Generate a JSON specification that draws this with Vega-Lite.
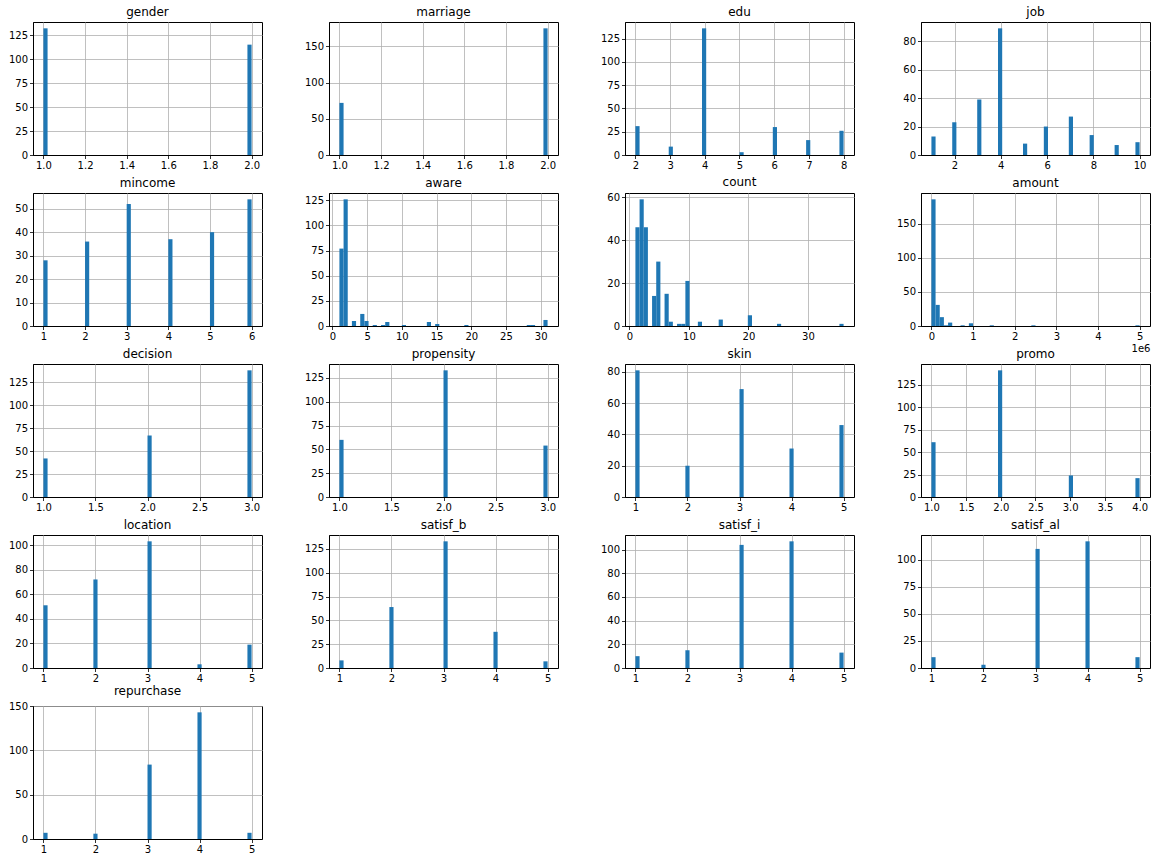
{
"$schema": "https://vega.github.io/schema/vega-lite/v6.json",
"padding": {"left": 7, "top": 5, "right": 5, "bottom": 5},
"background": "white",
"data": {"values": [
{"v":"gender","x0":1,"x1":1.02,"n":132},{"v":"gender","x0":1.98,"x1":2,"n":115},
{"v":"marriage","x0":1,"x1":1.02,"n":72},{"v":"marriage","x0":1.98,"x1":2,"n":175},
{"v":"edu","x0":2,"x1":2.12,"n":31},{"v":"edu","x0":2.96,"x1":3.08,"n":9},{"v":"edu","x0":3.92,"x1":4.04,"n":136},{"v":"edu","x0":5,"x1":5.12,"n":3},{"v":"edu","x0":5.96,"x1":6.08,"n":30},{"v":"edu","x0":6.92,"x1":7.04,"n":16},{"v":"edu","x0":7.88,"x1":8,"n":26},
{"v":"job","x0":1,"x1":1.18,"n":13},{"v":"job","x0":1.9,"x1":2.08,"n":23},{"v":"job","x0":2.98,"x1":3.16,"n":39},{"v":"job","x0":3.88,"x1":4.06,"n":89},{"v":"job","x0":4.96,"x1":5.14,"n":8},{"v":"job","x0":5.86,"x1":6.04,"n":20},{"v":"job","x0":6.94,"x1":7.12,"n":27},{"v":"job","x0":7.84,"x1":8.02,"n":14},{"v":"job","x0":8.92,"x1":9.1,"n":7},{"v":"job","x0":9.82,"x1":10,"n":9},
{"v":"mincome","x0":1,"x1":1.1,"n":28},{"v":"mincome","x0":2,"x1":2.1,"n":36},{"v":"mincome","x0":3,"x1":3.1,"n":52},{"v":"mincome","x0":4,"x1":4.1,"n":37},{"v":"mincome","x0":5,"x1":5.1,"n":40},{"v":"mincome","x0":5.9,"x1":6,"n":54},
{"v":"aware","x0":1,"x1":1.6,"n":77},{"v":"aware","x0":1.6,"x1":2.2,"n":126},{"v":"aware","x0":2.8,"x1":3.4,"n":5},{"v":"aware","x0":4,"x1":4.6,"n":12},{"v":"aware","x0":4.6,"x1":5.2,"n":5},{"v":"aware","x0":5.8,"x1":6.4,"n":1},{"v":"aware","x0":7,"x1":7.6,"n":1},{"v":"aware","x0":7.6,"x1":8.2,"n":4},{"v":"aware","x0":10,"x1":10.6,"n":1},{"v":"aware","x0":13.6,"x1":14.2,"n":4},{"v":"aware","x0":14.8,"x1":15.4,"n":2},{"v":"aware","x0":19,"x1":19.6,"n":1},{"v":"aware","x0":28,"x1":28.6,"n":1},{"v":"aware","x0":28.6,"x1":29.2,"n":1},{"v":"aware","x0":30.4,"x1":31,"n":6},
{"v":"count","x0":1,"x1":1.7,"n":46},{"v":"count","x0":1.7,"x1":2.4,"n":59},{"v":"count","x0":2.4,"x1":3.1,"n":46},{"v":"count","x0":3.8,"x1":4.5,"n":14},{"v":"count","x0":4.5,"x1":5.2,"n":30},{"v":"count","x0":5.9,"x1":6.6,"n":15},{"v":"count","x0":6.6,"x1":7.3,"n":2},{"v":"count","x0":8,"x1":8.7,"n":1},{"v":"count","x0":8.7,"x1":9.4,"n":1},{"v":"count","x0":9.4,"x1":10.1,"n":21},{"v":"count","x0":11.5,"x1":12.2,"n":2},{"v":"count","x0":15,"x1":15.7,"n":3},{"v":"count","x0":19.9,"x1":20.6,"n":5},{"v":"count","x0":24.8,"x1":25.5,"n":1},{"v":"count","x0":35.3,"x1":36,"n":1},
{"v":"amount","x0":0,"x1":100000,"n":186},{"v":"amount","x0":100000,"x1":200000,"n":31},{"v":"amount","x0":200000,"x1":300000,"n":13},{"v":"amount","x0":300000,"x1":400000,"n":1},{"v":"amount","x0":400000,"x1":500000,"n":5},{"v":"amount","x0":700000,"x1":800000,"n":1},{"v":"amount","x0":900000,"x1":1000000,"n":4},{"v":"amount","x0":1400000,"x1":1500000,"n":1},{"v":"amount","x0":2400000,"x1":2500000,"n":1},{"v":"amount","x0":4900000,"x1":5000000,"n":1},
{"v":"decision","x0":1,"x1":1.04,"n":42},{"v":"decision","x0":2,"x1":2.04,"n":67},{"v":"decision","x0":2.96,"x1":3,"n":138},
{"v":"propensity","x0":1,"x1":1.04,"n":60},{"v":"propensity","x0":2,"x1":2.04,"n":133},{"v":"propensity","x0":2.96,"x1":3,"n":54},
{"v":"skin","x0":1,"x1":1.08,"n":81},{"v":"skin","x0":1.96,"x1":2.04,"n":20},{"v":"skin","x0":3,"x1":3.08,"n":69},{"v":"skin","x0":3.96,"x1":4.04,"n":31},{"v":"skin","x0":4.92,"x1":5,"n":46},
{"v":"promo","x0":1,"x1":1.06,"n":61},{"v":"promo","x0":1.96,"x1":2.02,"n":141},{"v":"promo","x0":2.98,"x1":3.04,"n":24},{"v":"promo","x0":3.94,"x1":4,"n":21},
{"v":"location","x0":1,"x1":1.08,"n":51},{"v":"location","x0":1.96,"x1":2.04,"n":72},{"v":"location","x0":3,"x1":3.08,"n":103},{"v":"location","x0":3.96,"x1":4.04,"n":3},{"v":"location","x0":4.92,"x1":5,"n":19},
{"v":"satisf_b","x0":1,"x1":1.08,"n":8},{"v":"satisf_b","x0":1.96,"x1":2.04,"n":64},{"v":"satisf_b","x0":3,"x1":3.08,"n":133},{"v":"satisf_b","x0":3.96,"x1":4.04,"n":38},{"v":"satisf_b","x0":4.92,"x1":5,"n":7},
{"v":"satisf_i","x0":1,"x1":1.08,"n":10},{"v":"satisf_i","x0":1.96,"x1":2.04,"n":15},{"v":"satisf_i","x0":3,"x1":3.08,"n":104},{"v":"satisf_i","x0":3.96,"x1":4.04,"n":107},{"v":"satisf_i","x0":4.92,"x1":5,"n":13},
{"v":"satisf_al","x0":1,"x1":1.08,"n":10},{"v":"satisf_al","x0":1.96,"x1":2.04,"n":3},{"v":"satisf_al","x0":3,"x1":3.08,"n":110},{"v":"satisf_al","x0":3.96,"x1":4.04,"n":117},{"v":"satisf_al","x0":4.92,"x1":5,"n":10},
{"v":"repurchase","x0":1,"x1":1.08,"n":7},{"v":"repurchase","x0":1.96,"x1":2.04,"n":6},{"v":"repurchase","x0":3,"x1":3.08,"n":84},{"v":"repurchase","x0":3.96,"x1":4.04,"n":143},{"v":"repurchase","x0":4.92,"x1":5,"n":7}
]},
"columns": 4,
"spacing": {"row": 38, "column": 67},
"bounds": "flush",
"concat": [
{"title":"gender","width":229,"height":133,"transform":[{"filter":"datum.v==='gender'"}],"mark":{"type":"rect","color":"#1f77b4"},"encoding":{"x":{"field":"x0","type":"quantitative","title":null,"scale":{"domain":[0.95,2.05],"nice":false,"zero":false},"axis":{"values":[1,1.2,1.4,1.6,1.8,2],"format":".1f"}},"x2":{"field":"x1"},"y":{"field":"n","type":"quantitative","title":null,"scale":{"domain":[0,138.6],"nice":false},"axis":{"values":[0,25,50,75,100,125]}},"y2":{"datum":0}}},
{"title":"marriage","width":229,"height":133,"transform":[{"filter":"datum.v==='marriage'"}],"mark":{"type":"rect","color":"#1f77b4"},"encoding":{"x":{"field":"x0","type":"quantitative","title":null,"scale":{"domain":[0.95,2.05],"nice":false,"zero":false},"axis":{"values":[1,1.2,1.4,1.6,1.8,2],"format":".1f"}},"x2":{"field":"x1"},"y":{"field":"n","type":"quantitative","title":null,"scale":{"domain":[0,183.75],"nice":false},"axis":{"values":[0,50,100,150]}},"y2":{"datum":0}}},
{"title":"edu","width":229,"height":133,"transform":[{"filter":"datum.v==='edu'"}],"mark":{"type":"rect","color":"#1f77b4"},"encoding":{"x":{"field":"x0","type":"quantitative","title":null,"scale":{"domain":[1.7,8.3],"nice":false,"zero":false},"axis":{"values":[2,3,4,5,6,7,8],"format":"d"}},"x2":{"field":"x1"},"y":{"field":"n","type":"quantitative","title":null,"scale":{"domain":[0,142.8],"nice":false},"axis":{"values":[0,25,50,75,100,125]}},"y2":{"datum":0}}},
{"title":"job","width":229,"height":133,"transform":[{"filter":"datum.v==='job'"}],"mark":{"type":"rect","color":"#1f77b4"},"encoding":{"x":{"field":"x0","type":"quantitative","title":null,"scale":{"domain":[0.55,10.45],"nice":false,"zero":false},"axis":{"values":[2,4,6,8,10],"format":"d"}},"x2":{"field":"x1"},"y":{"field":"n","type":"quantitative","title":null,"scale":{"domain":[0,93.45],"nice":false},"axis":{"values":[0,20,40,60,80]}},"y2":{"datum":0}}},
{"title":"mincome","width":229,"height":133,"transform":[{"filter":"datum.v==='mincome'"}],"mark":{"type":"rect","color":"#1f77b4"},"encoding":{"x":{"field":"x0","type":"quantitative","title":null,"scale":{"domain":[0.75,6.25],"nice":false,"zero":false},"axis":{"values":[1,2,3,4,5,6],"format":"d"}},"x2":{"field":"x1"},"y":{"field":"n","type":"quantitative","title":null,"scale":{"domain":[0,56.7],"nice":false},"axis":{"values":[0,10,20,30,40,50]}},"y2":{"datum":0}}},
{"title":"aware","width":229,"height":133,"transform":[{"filter":"datum.v==='aware'"}],"mark":{"type":"rect","color":"#1f77b4"},"encoding":{"x":{"field":"x0","type":"quantitative","title":null,"scale":{"domain":[-0.5,32.5],"nice":false,"zero":false},"axis":{"values":[0,5,10,15,20,25,30],"format":"d"}},"x2":{"field":"x1"},"y":{"field":"n","type":"quantitative","title":null,"scale":{"domain":[0,132.3],"nice":false},"axis":{"values":[0,25,50,75,100,125]}},"y2":{"datum":0}}},
{"title":"count","width":229,"height":133,"transform":[{"filter":"datum.v==='count'"}],"mark":{"type":"rect","color":"#1f77b4"},"encoding":{"x":{"field":"x0","type":"quantitative","title":null,"scale":{"domain":[-0.75,37.75],"nice":false,"zero":false},"axis":{"values":[0,10,20,30],"format":"d"}},"x2":{"field":"x1"},"y":{"field":"n","type":"quantitative","title":null,"scale":{"domain":[0,61.95],"nice":false},"axis":{"values":[0,20,40,60]}},"y2":{"datum":0}}},
{"title":"amount","width":229,"height":133,"transform":[{"filter":"datum.v==='amount'"}],"mark":{"type":"rect","color":"#1f77b4"},"encoding":{"x":{"field":"x0","type":"quantitative","title":"1e6","scale":{"domain":[-250000,5250000],"nice":false,"zero":false},"axis":{"values":[0,1000000,2000000,3000000,4000000,5000000],"labelExpr":"format(datum.value/1000000,'d')","titleAnchor":"end","titleAlign":"right","titlePadding":2,"titleFont":"DejaVu Sans","titleFontSize":10,"titleFontWeight":"normal","titleColor":"black"}},"x2":{"field":"x1"},"y":{"field":"n","type":"quantitative","title":null,"scale":{"domain":[0,195.3],"nice":false},"axis":{"values":[0,50,100,150]}},"y2":{"datum":0}}},
{"title":"decision","width":229,"height":133,"transform":[{"filter":"datum.v==='decision'"}],"mark":{"type":"rect","color":"#1f77b4"},"encoding":{"x":{"field":"x0","type":"quantitative","title":null,"scale":{"domain":[0.9,3.1],"nice":false,"zero":false},"axis":{"values":[1,1.5,2,2.5,3],"format":".1f"}},"x2":{"field":"x1"},"y":{"field":"n","type":"quantitative","title":null,"scale":{"domain":[0,144.9],"nice":false},"axis":{"values":[0,25,50,75,100,125]}},"y2":{"datum":0}}},
{"title":"propensity","width":229,"height":133,"transform":[{"filter":"datum.v==='propensity'"}],"mark":{"type":"rect","color":"#1f77b4"},"encoding":{"x":{"field":"x0","type":"quantitative","title":null,"scale":{"domain":[0.9,3.1],"nice":false,"zero":false},"axis":{"values":[1,1.5,2,2.5,3],"format":".1f"}},"x2":{"field":"x1"},"y":{"field":"n","type":"quantitative","title":null,"scale":{"domain":[0,139.65],"nice":false},"axis":{"values":[0,25,50,75,100,125]}},"y2":{"datum":0}}},
{"title":"skin","width":229,"height":133,"transform":[{"filter":"datum.v==='skin'"}],"mark":{"type":"rect","color":"#1f77b4"},"encoding":{"x":{"field":"x0","type":"quantitative","title":null,"scale":{"domain":[0.8,5.2],"nice":false,"zero":false},"axis":{"values":[1,2,3,4,5],"format":"d"}},"x2":{"field":"x1"},"y":{"field":"n","type":"quantitative","title":null,"scale":{"domain":[0,85.05],"nice":false},"axis":{"values":[0,20,40,60,80]}},"y2":{"datum":0}}},
{"title":"promo","width":229,"height":133,"transform":[{"filter":"datum.v==='promo'"}],"mark":{"type":"rect","color":"#1f77b4"},"encoding":{"x":{"field":"x0","type":"quantitative","title":null,"scale":{"domain":[0.85,4.15],"nice":false,"zero":false},"axis":{"values":[1,1.5,2,2.5,3,3.5,4],"format":".1f"}},"x2":{"field":"x1"},"y":{"field":"n","type":"quantitative","title":null,"scale":{"domain":[0,148.05],"nice":false},"axis":{"values":[0,25,50,75,100,125]}},"y2":{"datum":0}}},
{"title":"location","width":229,"height":133,"transform":[{"filter":"datum.v==='location'"}],"mark":{"type":"rect","color":"#1f77b4"},"encoding":{"x":{"field":"x0","type":"quantitative","title":null,"scale":{"domain":[0.8,5.2],"nice":false,"zero":false},"axis":{"values":[1,2,3,4,5],"format":"d"}},"x2":{"field":"x1"},"y":{"field":"n","type":"quantitative","title":null,"scale":{"domain":[0,108.15],"nice":false},"axis":{"values":[0,20,40,60,80,100]}},"y2":{"datum":0}}},
{"title":"satisf_b","width":229,"height":133,"transform":[{"filter":"datum.v==='satisf_b'"}],"mark":{"type":"rect","color":"#1f77b4"},"encoding":{"x":{"field":"x0","type":"quantitative","title":null,"scale":{"domain":[0.8,5.2],"nice":false,"zero":false},"axis":{"values":[1,2,3,4,5],"format":"d"}},"x2":{"field":"x1"},"y":{"field":"n","type":"quantitative","title":null,"scale":{"domain":[0,139.65],"nice":false},"axis":{"values":[0,25,50,75,100,125]}},"y2":{"datum":0}}},
{"title":"satisf_i","width":229,"height":133,"transform":[{"filter":"datum.v==='satisf_i'"}],"mark":{"type":"rect","color":"#1f77b4"},"encoding":{"x":{"field":"x0","type":"quantitative","title":null,"scale":{"domain":[0.8,5.2],"nice":false,"zero":false},"axis":{"values":[1,2,3,4,5],"format":"d"}},"x2":{"field":"x1"},"y":{"field":"n","type":"quantitative","title":null,"scale":{"domain":[0,112.35],"nice":false},"axis":{"values":[0,20,40,60,80,100]}},"y2":{"datum":0}}},
{"title":"satisf_al","width":229,"height":133,"transform":[{"filter":"datum.v==='satisf_al'"}],"mark":{"type":"rect","color":"#1f77b4"},"encoding":{"x":{"field":"x0","type":"quantitative","title":null,"scale":{"domain":[0.8,5.2],"nice":false,"zero":false},"axis":{"values":[1,2,3,4,5],"format":"d"}},"x2":{"field":"x1"},"y":{"field":"n","type":"quantitative","title":null,"scale":{"domain":[0,122.85],"nice":false},"axis":{"values":[0,25,50,75,100]}},"y2":{"datum":0}}},
{"title":"repurchase","width":229,"height":133,"transform":[{"filter":"datum.v==='repurchase'"}],"mark":{"type":"rect","color":"#1f77b4"},"encoding":{"x":{"field":"x0","type":"quantitative","title":null,"scale":{"domain":[0.8,5.2],"nice":false,"zero":false},"axis":{"values":[1,2,3,4,5],"format":"d"}},"x2":{"field":"x1"},"y":{"field":"n","type":"quantitative","title":null,"scale":{"domain":[0,150.15],"nice":false},"axis":{"values":[0,50,100,150]}},"y2":{"datum":0}}}
],
"config": {
"view": {"stroke": "black", "strokeWidth": 1},
"axis": {"grid": true, "gridColor": "#b0b0b0", "gridWidth": 0.8, "domainColor": "black", "domainWidth": 1, "tickColor": "black", "tickSize": 3.5, "tickWidth": 0.8, "labelFont": "DejaVu Sans", "labelFontSize": 10, "labelColor": "black", "labelPadding": 2, "labelFlush": false, "labelOverlap": false, "zindex": 1},
"title": {"font": "DejaVu Sans", "fontSize": 12, "fontWeight": "normal", "color": "black", "offset": 3, "anchor": "middle", "baseline": "bottom"}
}
}
